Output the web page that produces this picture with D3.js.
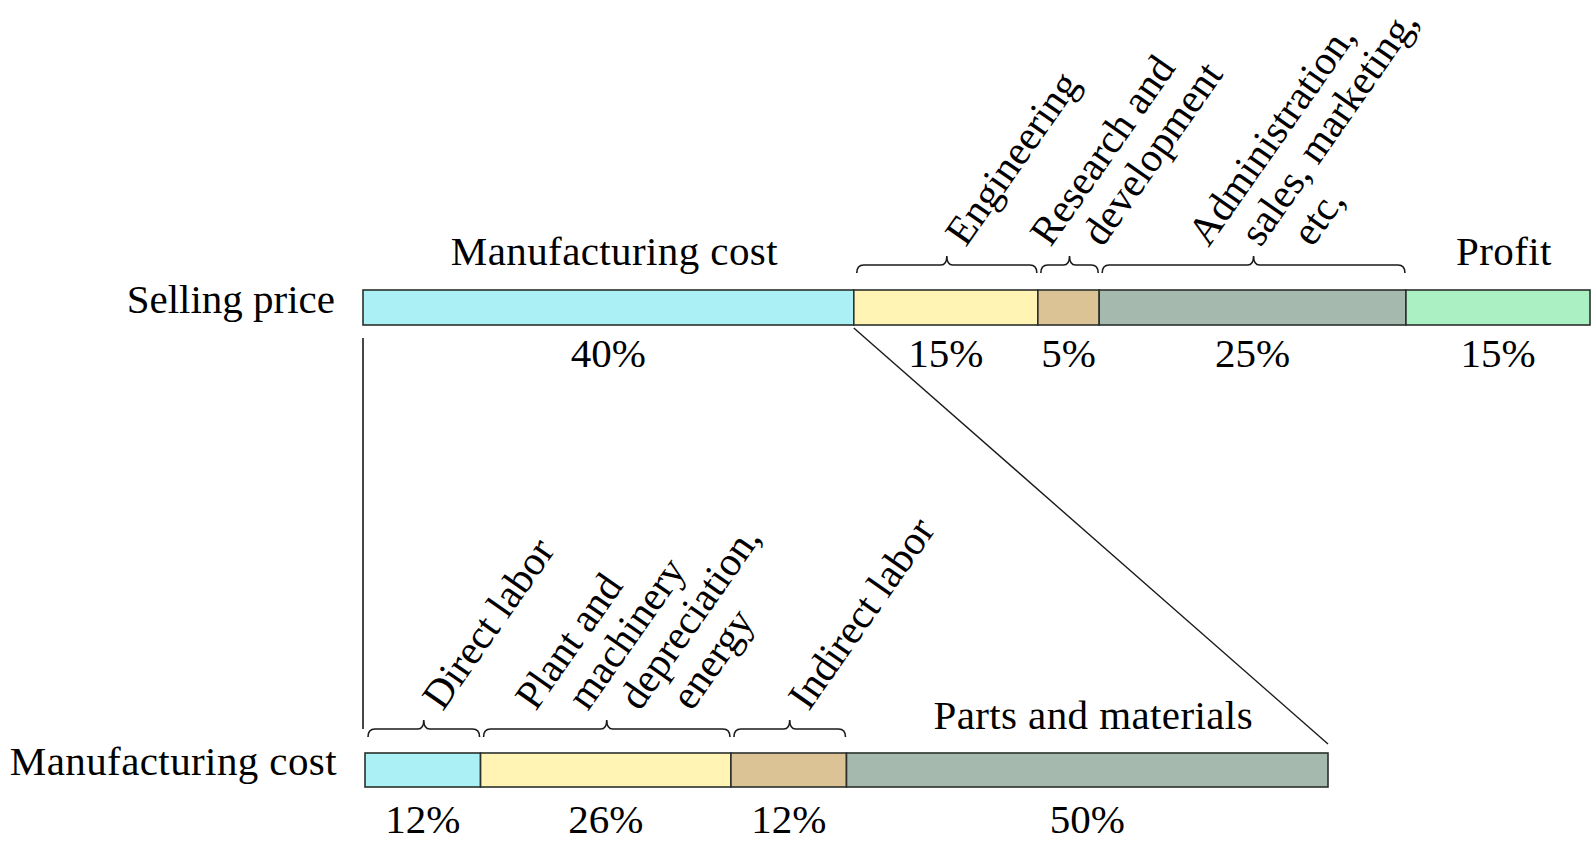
<!DOCTYPE html>
<html>
<head>
<meta charset="utf-8">
<script src="https://cdn.jsdelivr.net/npm/d3@7"></script>
<style>
  body { margin: 0; background: #fff; }
  svg { display: block; font-family: "Liberation Serif", "Times New Roman", serif; }
</style>
</head>
<body>
<div id="viz"></div>
<script>
// data: share of selling price, and breakdown of manufacturing cost
const topCategories = ["Manufacturing cost", "Engineering", "Research and development", "Administration, sales, marketing, etc,", "Profit"];
const topValues = [40, 15, 5, 25, 15];
const topLabelLines = [["Manufacturing cost"], ["Engineering"], ["Research and", "development"], ["Administration,", "sales, marketing,", "etc,"], ["Profit"]];
const topBraced = [false, true, true, true, false];

const bottomCategories = ["Direct labor", "Plant and machinery depreciation, energy", "Indirect labor", "Parts and materials"];
const bottomValues = [12, 26, 12, 50];
const bottomLabelLines = [["Direct labor"], ["Plant and", "machinery", "depreciation,", "energy"], ["Indirect labor"], ["Parts and materials"]];
const bottomBraced = [true, true, true, false];

const rowNames = ["Selling price", "Manufacturing cost"];

const topColors = ["#aaf0f5", "#fff4b4", "#dcc396", "#a5b9af", "#aaf0c3"];
const bottomColors = ["#aaf0f5", "#fff4b4", "#dcc396", "#a5b9af"];

const width = 1592, height = 842;
const fontSize = 41;
const angle = 55;                       // rotation of slanted labels
const lineStep = 52;                    // horizontal shift between slanted lines

const svg = d3.select("#viz").append("svg")
    .attr("width", width)
    .attr("height", height);

function bracePath(x0, x1, y) {
    const m = (x0 + x1) / 2;
    return `M${x0},${y + 8} Q${x0},${y} ${x0 + 7},${y} L${m - 6},${y} Q${m},${y} ${m},${y - 9}`
        + ` Q${m},${y} ${m + 6},${y} L${x1 - 7},${y} Q${x1},${y} ${x1},${y + 8}`;
}

function drawRow(opt) {
    const x = d3.scaleLinear().domain([0, 100]).range(opt.range);
    const ends = d3.cumsum(opt.values);
    const segs = opt.values.map((v, i) => ({
        value: v, start: ends[i] - v, end: ends[i],
        lines: opt.lines[i], braced: opt.braced[i], color: opt.colors[i]
    }));
    const g = svg.append("g");

    // bar segments
    g.selectAll("rect")
        .data(segs)
        .enter()
        .append("rect")
            .attr("x", d => x(d.start))
            .attr("y", opt.y)
            .attr("width", d => x(d.end) - x(d.start))
            .attr("height", opt.h)
            .attr("fill", d => d.color)
            .attr("stroke", "#2b302c")
            .attr("stroke-width", 1.6);

    // row name on the left
    g.append("text")
        .attr("x", opt.range[0] - 28)
        .attr("y", opt.y + opt.h - 12)
        .attr("text-anchor", "end")
        .style("font-size", fontSize + "px")
        .style("letter-spacing", opt.spacing)
        .text(opt.name);

    // percentages under the bar
    g.selectAll(".pct")
        .data(segs)
        .enter()
        .append("text")
            .attr("class", "pct")
            .attr("x", d => x((d.start + d.end) / 2))
            .attr("y", opt.pctY)
            .attr("text-anchor", "middle")
            .style("font-size", fontSize + "px")
            .text(d => d.value + "%");

    // flat labels above segments without brace
    g.selectAll(".flat")
        .data(segs.filter(d => !d.braced))
        .enter()
        .append("text")
            .attr("class", "flat")
            .attr("x", d => x((d.start + d.end) / 2) + 6)
            .attr("y", opt.braceY)
            .attr("text-anchor", "middle")
            .style("font-size", fontSize + "px")
            .style("letter-spacing", "0.4px")
            .text(d => d.lines[0]);

    // braces
    const braced = segs.filter(d => d.braced);
    g.selectAll(".brace")
        .data(braced)
        .enter()
        .append("path")
            .attr("class", "brace")
            .attr("d", d => bracePath(x(d.start) + 3, x(d.end) - 1, opt.braceY))
            .attr("fill", "none")
            .attr("stroke", "#1a1a1a")
            .attr("stroke-width", 1.6);

    // slanted labels over braces
    braced.forEach(d => {
        const n = d.lines.length;
        const peak = x((d.start + d.end) / 2) + (n === 1 ? 20 : 8);
        d.lines.forEach((line, i) => {
            const sx = peak + (i - (n - 1) / 2) * lineStep;
            g.append("text")
                .attr("transform", `translate(${sx},${opt.braceY - 17}) rotate(${-angle})`)
                .style("font-size", fontSize + "px")
                .text(line);
        });
    });
    return x;
}

const xTop = drawRow({
    name: rowNames[0], values: topValues, lines: topLabelLines, braced: topBraced, colors: topColors,
    range: [363, 1590], y: 290, h: 35, braceY: 265, pctY: 367, spacing: "0px"
});

const xBottom = drawRow({
    name: rowNames[1], values: bottomValues, lines: bottomLabelLines, braced: bottomBraced, colors: bottomColors,
    range: [365, 1328], y: 753, h: 34, braceY: 729, pctY: 833, spacing: "0.4px"
});

// connector lines from manufacturing cost to its breakdown
svg.append("line")
    .attr("x1", xTop(0)).attr("x2", xTop(0))
    .attr("y1", 338).attr("y2", 729)
    .attr("stroke", "#1a1a1a").attr("stroke-width", 1.6);

svg.append("line")
    .attr("x1", xTop(topValues[0])).attr("y1", 328)
    .attr("x2", xBottom(100)).attr("y2", 744)
    .attr("stroke", "#1a1a1a").attr("stroke-width", 1.4);
</script>
</body>
</html>
